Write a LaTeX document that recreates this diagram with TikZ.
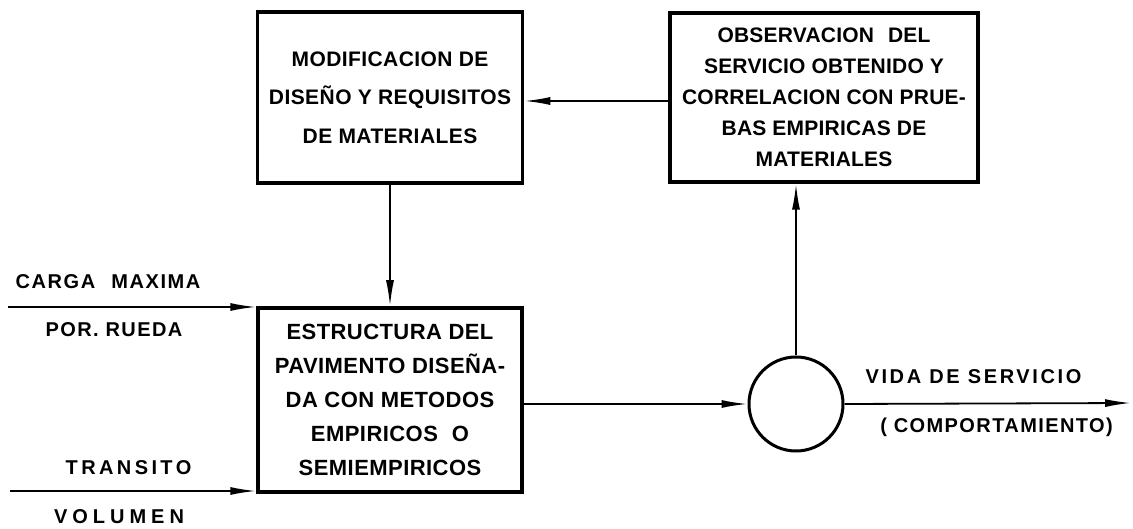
\documentclass[tikz,border=0pt]{standalone}
\usepackage{fontspec}
\setmainfont{Liberation Sans}
\usetikzlibrary{arrows.meta}
\newcommand{\lsfont}[3]{\fontsize{#1}{#2}\selectfont\bfseries\addfontfeature{LetterSpace=#3}}
\begin{document}
\begin{tikzpicture}[x=1pt,y=-1pt,
  box/.style={draw,line width=3.5pt,inner sep=0pt,align=center},
  lbl/.style={inner sep=0pt},
  conn/.style={line width=1.8pt,-{Latex[length=26pt,width=8pt]}}]
\useasboundingbox (0,0) rectangle (1133,529);
\node[box,minimum width=265pt,minimum height=171pt,font=\lsfont{21}{38.5}{2}] (mod) at (390,97.5)
  {MODIFICACION DE\\DISEÑO Y REQUISITOS\\DE MATERIALES};
\node[box,minimum width=308pt,minimum height=169pt,font=\lsfont{21}{31}{1}] (obs) at (824,97.5)
  {OBSERVACION\hspace{14pt}DEL\\SERVICIO OBTENIDO Y\\CORRELACION CON PRUE-\\BAS EMPIRICAS DE\\MATERIALES};
\node[box,minimum width=264pt,minimum height=184pt,font=\lsfont{22}{34}{2}] (est) at (390,400)
  {ESTRUCTURA DEL\\PAVIMENTO DISEÑA-\\DA CON METODOS\\EMPIRICOS\hspace{14pt}O\\SEMIEMPIRICOS};
\node[draw,circle,line width=3pt,minimum size=94pt,inner sep=0pt] (circ) at (796,404) {};
\node[lbl,font=\lsfont{20}{24}{8}] (carga) at (108,282) {CARGA\hspace{16pt}MAXIMA};
\node[lbl,font=\lsfont{20}{24}{7}] (rueda) at (114,330) {POR. RUEDA};
\node[lbl,font=\lsfont{20}{24}{17}] (trans) at (128.5,468) {TRANSITO};
\node[lbl,font=\lsfont{20}{24}{25}] (vol) at (119,517) {VOLUMEN};
\node[lbl,font=\lsfont{20}{24}{13}] (vida) at (973.5,377) {VIDA DE SERVICIO};
\node[lbl,font=\lsfont{20}{24}{7}] (comp) at (996.5,427) {( COMPORTAMIENTO)};
\coordinate (in1) at (8,307);
\coordinate (in2) at (10,491);
\coordinate (mid) at (600,101);
\coordinate (out) at (1131,403);
\draw[conn] (in1) -- (in1 -| est.west);
\draw[conn] (in2) -- (in2 -| est.west);
\draw[conn] (mid -| obs.west) -- (mid -| mod.east);
\draw[conn] (mod.south) -- (est.north);
\draw[conn] (est.east |- circ.west) -- (circ.west);
\draw[conn] (circ.north) -- (circ.north |- obs.south);
\draw[conn] (circ.east) -- (out);
\end{tikzpicture}
\end{document}
